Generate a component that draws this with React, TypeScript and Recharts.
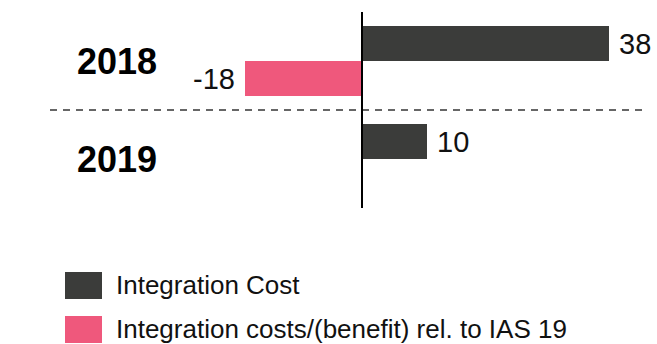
import React from 'react';
import { BarChart, Bar, XAxis, YAxis, ReferenceLine, LabelList, Legend } from 'recharts';

const years = ['2018', '2019'];
const integrationCost = [38, 10];
const ias19Effect = [-18, 0];
const seriesNames = ['Integration Cost', 'Integration costs/(benefit) rel. to IAS 19'];
const xDomain = [-48, 44];

const data = years.map((year, i) => ({
  year,
  cost: integrationCost[i],
  ias: ias19Effect[i],
}));

const FONT = '"Liberation Sans", Arial, Helvetica, sans-serif';
const DARK = '#3b3c3a';
const PINK = '#ef587c';

const YearTick = (props: any) => {
  const { y, payload } = props;
  return (
    <text
      x={157}
      y={y}
      dy="0.36em"
      textAnchor="end"
      fontFamily={FONT}
      fontWeight="bold"
      fontSize={36}
      fill="#000"
    >
      {payload.value}
    </text>
  );
};

const LegendContent = (props: any) => {
  const { payload } = props;
  return (
    <div style={{ fontFamily: FONT }}>
      {(payload || []).map((p: any, i: number) => (
        <div
          key={i}
          style={{
            display: 'flex',
            alignItems: 'center',
            height: 27,
            marginBottom: 17,
            marginLeft: 65,
          }}
        >
          <div style={{ width: 37, height: 27, background: p.color }} />
          <span style={{ marginLeft: 14, fontSize: 26, color: '#111', lineHeight: '27px', whiteSpace: 'nowrap' }}>
            {p.value}
          </span>
        </div>
      ))}
    </div>
  );
};

const hideZero = (v: any) => (v === 0 ? '' : v);

export default function App() {
  return (
    <div style={{ position: 'absolute', left: 0, top: 0 }}>
      <BarChart
        width={657}
        height={344}
        data={data}
        layout="vertical"
        margin={{ top: 12, right: 9, bottom: 136, left: 0 }}
        barCategoryGap={14}
        barGap={0}
      >
        <XAxis type="number" domain={xDomain} hide allowDataOverflow />
        <YAxis
          type="category"
          dataKey="year"
          width={50}
          axisLine={false}
          tickLine={false}
          tick={YearTick}
          interval={0}
        />
        <ReferenceLine
          y="2018"
          position="end"
          stroke="#666"
          strokeWidth={2}
          strokeDasharray="7 6"
        />
        <Bar dataKey="cost" name={seriesNames[0]} fill={DARK} isAnimationActive={false}>
          <LabelList
            dataKey="cost"
            position="right"
            offset={10}
            fill="#111"
            fontSize={29}
            fontFamily={FONT}
            formatter={hideZero}
          />
        </Bar>
        <Bar dataKey="ias" name={seriesNames[1]} fill={PINK} isAnimationActive={false}>
          <LabelList
            dataKey="ias"
            position="right"
            offset={10}
            fill="#111"
            fontSize={29}
            fontFamily={FONT}
            formatter={hideZero}
          />
        </Bar>
        <ReferenceLine x={0} stroke="#000" strokeWidth={2} />
        <Legend
          layout="vertical"
          align="center"
          verticalAlign="middle"
          content={<LegendContent />}
          wrapperStyle={{ left: 0, top: 272, width: 657, height: 'auto' }}
        />
      </BarChart>
    </div>
  );
}
